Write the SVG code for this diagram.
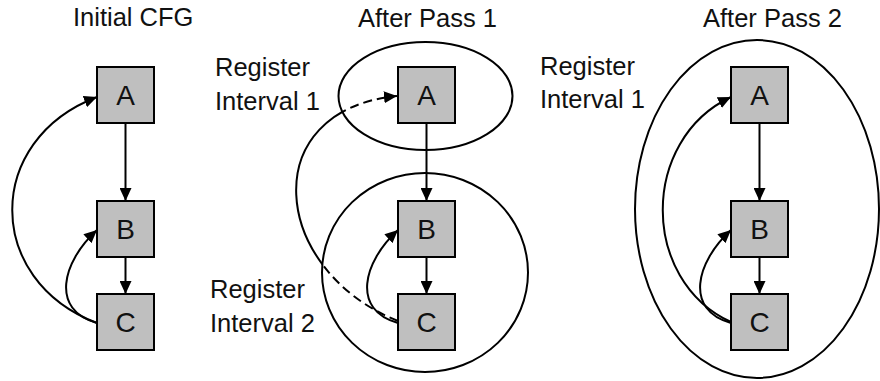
<svg xmlns="http://www.w3.org/2000/svg" width="880" height="381" viewBox="0 0 880 381">
  <style>
    .box { fill: #bfbfbf; stroke: #000; stroke-width: 2; }
    .lbl { font-family: "Liberation Sans", Arial, sans-serif; font-size: 25.5px; fill: #111; }
    .node { font-family: "Liberation Sans", Arial, sans-serif; font-size: 28px; fill: #111; text-anchor: middle; }
    .edge { fill: none; stroke: #000; stroke-width: 2; marker-end: url(#arrow); }
    .dash { stroke-dasharray: 9 5; }
    .region { fill: none; stroke: #000; stroke-width: 2; }
  </style>
  <defs>
    <marker id="arrow" markerUnits="userSpaceOnUse" markerWidth="14" markerHeight="12" refX="13" refY="6" orient="auto">
      <path d="M0,0 L13,6 L0,12 z" fill="#000"/>
    </marker>
    <clipPath id="inside2">
      <ellipse cx="425.5" cy="96" rx="87" ry="54"/>
      <ellipse cx="425" cy="272.5" rx="103" ry="99.5"/>
    </clipPath>
    <mask id="outside2" maskUnits="userSpaceOnUse" x="0" y="0" width="880" height="381">
      <rect x="0" y="0" width="880" height="381" fill="#fff"/>
      <ellipse cx="425.5" cy="96" rx="87" ry="54" fill="#000"/>
      <ellipse cx="425" cy="272.5" rx="103" ry="99.5" fill="#000"/>
    </mask>
  </defs>

  <!-- titles -->
  <g id="titles">
    <text class="lbl" x="73" y="26">Initial CFG</text>
    <text class="lbl" x="358" y="27">After Pass 1</text>
    <text class="lbl" x="703" y="27">After Pass 2</text>
  </g>

  <!-- regions -->
  <g id="interval1-pass1">
    <ellipse class="region" cx="425.5" cy="96" rx="87" ry="54"/>
    <text class="lbl" x="215" y="76">Register</text>
    <text class="lbl" x="215" y="110">Interval 1</text>
  </g>
  <g id="interval2-pass1">
    <ellipse class="region" cx="425" cy="272.5" rx="103" ry="99.5"/>
    <text class="lbl" x="210" y="298">Register</text>
    <text class="lbl" x="210" y="332">Interval 2</text>
  </g>
  <g id="interval1-pass2">
    <ellipse class="region" cx="757" cy="209" rx="122" ry="169"/>
    <text class="lbl" x="540" y="75">Register</text>
    <text class="lbl" x="540" y="108">Interval 1</text>
  </g>

  <!-- connectors -->
  <g id="connectors">
    <!-- panel 1 -->
    <path class="edge" d="M125.5,124 L125.5,201"/>
    <path class="edge" d="M125.5,257 L125.5,294"/>
    <path class="edge" d="M97,323 C-16,280 -16,140 97,97"/>
    <path class="edge" d="M97,323 C50,310 62,262 97,230"/>
    <!-- panel 2 -->
    <path class="edge" d="M426.5,123 L426.5,201"/>
    <path class="edge" d="M426.5,257 L426.5,294"/>
    <path class="edge" d="M398,323 C351,310 363,262 398,230"/>
    <path class="edge dash" clip-path="url(#inside2)" d="M398,321 C270,270 255,110 397,96"/>
    <path fill="none" stroke="#000" stroke-width="2" mask="url(#outside2)" d="M398,321 C270,270 255,110 397,96"/>
    <!-- panel 3 -->
    <path class="edge" d="M759.5,123 L759.5,201"/>
    <path class="edge" d="M759.5,257 L759.5,294"/>
    <path class="edge" d="M731,322 C640,280 640,140 731,97"/>
    <path class="edge" d="M731,323 C684,310 696,262 731,230"/>
  </g>

  <!-- nodes -->
  <g id="p1-A"><rect class="box" x="97" y="67" width="57" height="56"/><text class="node" x="125.5" y="105">A</text></g>
  <g id="p1-B"><rect class="box" x="97" y="201" width="57" height="56"/><text class="node" x="125.5" y="239">B</text></g>
  <g id="p1-C"><rect class="box" x="97" y="294" width="57" height="56"/><text class="node" x="125.5" y="332">C</text></g>

  <g id="p2-A"><rect class="box" x="398" y="67" width="57" height="56"/><text class="node" x="426.5" y="105">A</text></g>
  <g id="p2-B"><rect class="box" x="398" y="201" width="57" height="56"/><text class="node" x="426.5" y="239">B</text></g>
  <g id="p2-C"><rect class="box" x="398" y="294" width="57" height="56"/><text class="node" x="426.5" y="332">C</text></g>

  <g id="p3-A"><rect class="box" x="731" y="67" width="57" height="56"/><text class="node" x="759.5" y="105">A</text></g>
  <g id="p3-B"><rect class="box" x="731" y="201" width="57" height="56"/><text class="node" x="759.5" y="239">B</text></g>
  <g id="p3-C"><rect class="box" x="731" y="294" width="57" height="56"/><text class="node" x="759.5" y="332">C</text></g>
</svg>
